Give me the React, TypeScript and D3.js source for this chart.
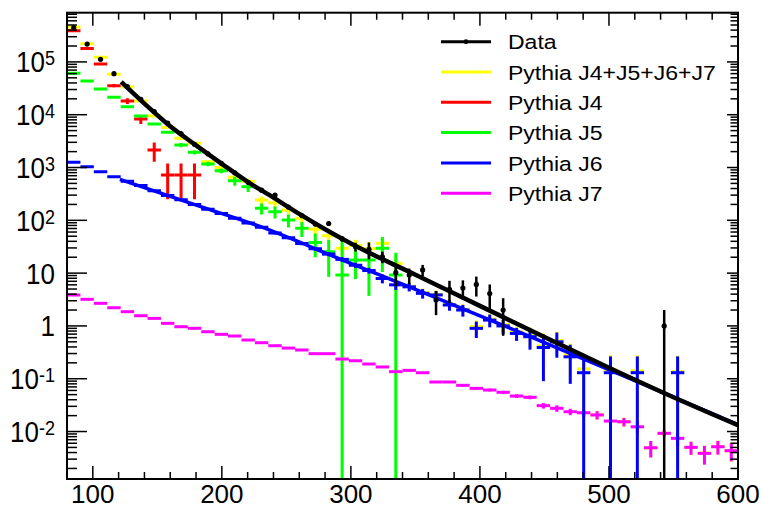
import React from "react";
import * as d3 from "d3";

const W = 763;
const H = 509;
const FRAME = { l: 67, r: 738, t: 12.7, b: 479 };

// Histogram binning: 50 bins from 80 to 600
const X_MIN = 80;
const X_MAX = 600;
const N_BINS = 50;
const binEdges = d3.range(N_BINS + 1).map((i) => X_MIN + (i * (X_MAX - X_MIN)) / N_BINS);

// Data (black points)
const dataValues = [
  445000, 218000, 112000, 59800, 33900, 19500, 11500, 6920, 4370, 2750,
  1820, 1200, 794, 525, 372, 301, 178, 123, 85, 87,
  44.7, 31.6, 28.2, 20.4, 10.2, 9.2, 11.5, 3.1, 4.95, 5.2,
  6.1, 4.1, 2.0, 0, 0, 0, 0, 0, 0, 0,
  0, 0, 0, 0, 1.0, 0, 0, 0, 0, 0,
];
const dataErrors = [
  700, 480, 340, 250, 180, 140, 110, 80, 65, 50,
  40, 32, 26, 21, 18, 10, 8, 7, 6, 8,
  5, 6, 10, 5, 4.5, 3, 2.8, 1.5, 2.2, 2.1,
  2.5, 2.0, 1.35, 0, 0, 0, 0, 0, 0, 0,
  0, 0, 0, 0, 1.0, 0, 0, 0, 0, 0,
];

// Pythia J4+J5+J6+J7 (yellow)
const sumValues = [
  457000, 221000, 122000, 58200, 33500, 18200, 9460, 5750, 3570, 2870,
  1290, 1000, 652, 541, 243, 214, 157, 109, 67.6, 51.3,
  29.5, 33.9, 28.8, 36.7, 15.3, 5.64, 4.27, 3.95, 2.58, 2.07,
  0.97, 1.36, 1.06, 0.77, 0.67, 0.42, 0.53, 0.284, 0.153, 0.0206,
  0.146, 0.0153, 0.142, 0.0049, 0.0092, 0.137, 0.005, 0.0039, 0.0052, 0.0043,
];
const sumErrors = [
  3000, 2000, 1500, 900, 900, 800, 350, 300, 250, 220,
  100, 90, 90, 80, 40, 35, 28, 22, 17, 15,
  8, 9, 10, 11, 5, 1.0, 0.85, 0.7, 0.55, 0.5,
  0.31, 0.35, 0.3, 0.2, 0.27, 0.3, 0.25, 0.18, 0.135, 0.004,
  0.135, 0.003, 0.135, 0.0017, 0.0011, 0.135, 0.0014, 0.0015, 0.0015, 0.0016,
];

// Pythia J4 (red)
const j4Values = [
  390000, 180000, 91000, 35500, 18200, 8300, 2140, 720, 720, 720,
  ...new Array(40).fill(0),
];
const j4Errors = [
  3000, 2000, 1500, 2500, 2200, 1600, 850, 470, 470, 470,
  ...new Array(40).fill(0),
];

// Pythia J5 (green)
const j5Values = [
  60800, 43650, 30690, 21380, 14130, 9460, 6670, 4680, 2670, 1940,
  1170, 870, 562, 434, 169, 145, 101, 70.5, 38, 25.5,
  9.2, 17.7, 17.7, 29.5, 9.2, 0, 0, 0, 0, 0,
  0, 0, 0, 0, 0, 0, 0, 0, 0, 0,
  0, 0, 0, 0, 0, 0, 0, 0, 0, 0,
];
const j5Errors = [
  700, 600, 500, 400, 350, 300, 250, 220, 250, 180,
  110, 90, 110, 90, 40, 37, 28, 22, 18, 17,
  33, 10, 14, 19, 15, 0, 0, 0, 0, 0,
  0, 0, 0, 0, 0, 0, 0, 0, 0, 0,
  0, 0, 0, 0, 0, 0, 0, 0, 0, 0,
];

// Pythia J6 (blue)
const j6Values = [
  1259, 1038, 832, 670, 550, 457, 363, 295, 245, 200,
  162, 135, 110, 89, 74, 57.5, 46.8, 36.3, 28.8, 22.9,
  18.2, 14.1, 11.2, 7.9, 6.0, 5.5, 4.14, 3.86, 2.49, 2.0,
  0.9, 1.29, 1.0, 0.72, 0.625, 0.39, 0.5, 0.26, 0.13, 0,
  0.13, 0, 0.13, 0, 0, 0.13, 0, 0, 0, 0,
];
const j6Errors = [
  25, 22, 18, 15, 14, 12, 10, 9, 8, 7,
  6, 5.5, 5, 4.5, 4, 3.5, 3, 2.6, 2.3, 2.0,
  1.8, 1.6, 1.4, 1.5, 1.2, 1.0, 0.85, 0.7, 0.55, 0.5,
  0.31, 0.35, 0.3, 0.2, 0.27, 0.3, 0.25, 0.18, 0.135, 0,
  0.135, 0, 0.135, 0, 0, 0.135, 0, 0, 0, 0,
];

// Pythia J7 (magenta)
const j7Values = [
  3.85, 3.19, 2.68, 2.21, 1.86, 1.56, 1.39, 1.12, 0.966, 0.902,
  0.776, 0.693, 0.644, 0.541, 0.481, 0.422, 0.381, 0.35, 0.298, 0.298,
  0.236, 0.219, 0.19, 0.167, 0.136, 0.144, 0.13, 0.0867, 0.0867, 0.075,
  0.0658, 0.0611, 0.0553, 0.047, 0.0445, 0.0309, 0.0275, 0.0237, 0.0227, 0.0206,
  0.0158, 0.0153, 0.0123, 0.00493, 0.00925, 0.00743, 0.00502, 0.00386, 0.00515, 0.00433,
];
const j7Errors = [
  0.08, 0.06, 0.05, 0.04, 0.035, 0.03, 0.027, 0.022, 0.019, 0.018,
  0.015, 0.014, 0.013, 0.011, 0.01, 0.0085, 0.0077, 0.0072, 0.0063, 0.0063,
  0.0052, 0.005, 0.0045, 0.0042, 0.0037, 0.0039, 0.0036, 0.0035, 0.0035, 0.0037,
  0.004, 0.0037, 0.0039, 0.0038, 0.0036, 0.0037, 0.0039, 0.0033, 0.0036, 0.0037,
  0.0035, 0.0028, 0.0031, 0.0017, 0.0011, 0.0021, 0.0014, 0.0015, 0.0015, 0.0016,
];

// Fit curves
const dataFitX = [122, 140, 160, 180, 200, 220, 240, 260, 280, 300, 350, 400, 450, 500, 550, 600];
const dataFitY = [41700, 16200, 6030, 2630, 1175, 537, 269, 132, 67.6, 36.3, 9.33, 2.4, 0.617, 0.162, 0.0447, 0.0132];
const j6FitX = [121, 183, 230, 295, 361, 416, 470, 532, 600];
const j6FitY = [597, 184, 75.7, 17.1, 3.85, 1.074, 0.302, 0.0692, 0.0135];

// Axis ticks
const xTickValues = d3.range(80, 601, 20);
const xLabels = [100, 200, 300, 400, 500, 600];
const yMajorExps = [-2, -1, 0, 1, 2, 3, 4, 5];

const legendItems = [
  { label: "Data", color: "#000000", marker: true },
  { label: "Pythia J4+J5+J6+J7", color: "#ffff00", marker: false },
  { label: "Pythia J4", color: "#ff0000", marker: false },
  { label: "Pythia J5", color: "#00ff00", marker: false },
  { label: "Pythia J6", color: "#0000ff", marker: false },
  { label: "Pythia J7", color: "#ff00ff", marker: false },
];

const FONT = "'Liberation Sans', Arial, Helvetica, sans-serif";

export default function App() {
  const x = d3.scaleLinear().domain([X_MIN, X_MAX]).range([FRAME.l, FRAME.r]);
  const y = d3.scaleLog().domain([1.262e-3, 8.55e5]).range([FRAME.b, FRAME.t]);
  const yMin = y.domain()[0];

  const histMarks = (
    vals: number[],
    errs: number[],
    color: string,
    key: string,
    sw: number
  ) => {
    const out: React.ReactElement[] = [];
    vals.forEach((v, i) => {
      if (!(v > 0)) return;
      const e = errs[i] || 0;
      const x0 = x(binEdges[i]);
      const x1 = x(binEdges[i + 1]);
      const xc = (x0 + x1) / 2;
      const yv = y(v);
      out.push(
        <line key={`${key}h${i}`} x1={x0} x2={x1} y1={yv} y2={yv} stroke={color} strokeWidth={sw} />
      );
      if (e > 0) {
        const yHi = y(v + e);
        const yLo = v - e > yMin ? y(v - e) : FRAME.b;
        out.push(
          <line key={`${key}v${i}`} x1={xc} x2={xc} y1={yHi} y2={yLo} stroke={color} strokeWidth={sw} />
        );
      }
    });
    return out;
  };

  const dataMarks = () => {
    const out: React.ReactElement[] = [];
    dataValues.forEach((v, i) => {
      if (!(v > 0)) return;
      const e = dataErrors[i] || 0;
      const xc = x((binEdges[i] + binEdges[i + 1]) / 2);
      const yv = y(v);
      if (e > 0) {
        const yHi = y(v + e);
        const yLo = v - e > yMin ? y(v - e) : FRAME.b;
        out.push(
          <line key={`dv${i}`} x1={xc} x2={xc} y1={yHi} y2={yLo} stroke="#000" strokeWidth={2.5} />
        );
      }
      out.push(<circle key={`dc${i}`} cx={xc} cy={yv} r={2.6} fill="#000" />);
    });
    return out;
  };

  const fitLine = d3
    .line<[number, number]>()
    .x((d) => x(d[0]))
    .y((d) => y(d[1]))
    .curve(d3.curveMonotoneX);

  const dataFitPath = fitLine(dataFitX.map((v, i) => [v, dataFitY[i]] as [number, number])) || "";
  const j6FitPath = fitLine(j6FitX.map((v, i) => [v, j6FitY[i]] as [number, number])) || "";

  // y ticks
  const yTicks: { v: number; major: boolean }[] = [];
  for (let ex = -3; ex <= 5; ex++) {
    for (let k = 1; k <= 9; k++) {
      const v = k * Math.pow(10, ex);
      if (v >= yMin && v <= y.domain()[1]) yTicks.push({ v, major: k === 1 });
    }
  }

  const yLabel = (ex: number) => {
    const yy = y(Math.pow(10, ex)) + 10.5;
    const tf = `translate(55, ${yy}) scale(1, 1.12)`;
    if (ex === 0 || ex === 1) {
      return (
        <text key={`yl${ex}`} transform={tf} textAnchor="end" fontSize={26} fontFamily={FONT}>
          {ex === 0 ? "1" : "10"}
        </text>
      );
    }
    return (
      <text key={`yl${ex}`} transform={tf} textAnchor="end" fontSize={26} fontFamily={FONT}>
        10
        <tspan dy={-6.5} fontSize={18}>
          {String(ex)}
        </tspan>
      </text>
    );
  };

  return (
    <div style={{ position: "fixed", left: 0, top: 0, width: W, height: H, background: "#fff" }}>
      <svg width={W} height={H} viewBox={`0 0 ${W} ${H}`} style={{ display: "block" }}>
        <rect x={0} y={0} width={W} height={H} fill="#fff" />
        <defs>
          <clipPath id="frameClip">
            <rect x={FRAME.l} y={FRAME.t} width={FRAME.r - FRAME.l} height={FRAME.b - FRAME.t} />
          </clipPath>
        </defs>

        <g clipPath="url(#frameClip)">
          {histMarks(sumValues, sumErrors, "#ffff00", "sum", 3)}
          {histMarks(j4Values, j4Errors, "#ff0000", "j4", 3)}
          {histMarks(j5Values, j5Errors, "#00ff00", "j5", 3)}
          {histMarks(j7Values, j7Errors, "#ff00ff", "j7", 3)}
          {histMarks(j6Values, j6Errors, "#0000ff", "j6", 3)}
          <path d={j6FitPath} fill="none" stroke="#0000ff" strokeWidth={3.5} />
          {dataMarks()}
          <path d={dataFitPath} fill="none" stroke="#000" strokeWidth={4.5} />
        </g>

        {/* frame */}
        <rect
          x={FRAME.l}
          y={FRAME.t}
          width={FRAME.r - FRAME.l}
          height={FRAME.b - FRAME.t}
          fill="none"
          stroke="#000"
          strokeWidth={2}
        />

        {/* x ticks bottom & top */}
        {xTickValues.map((v) => {
          const major = v % 100 === 0;
          const len = major ? 13 : 7;
          const xx = x(v);
          return (
            <g key={`xt${v}`}>
              <line x1={xx} x2={xx} y1={FRAME.b} y2={FRAME.b - len} stroke="#000" strokeWidth={1.5} />
              <line x1={xx} x2={xx} y1={FRAME.t} y2={FRAME.t + len} stroke="#000" strokeWidth={1.5} />
            </g>
          );
        })}
        {xLabels.map((v) => (
          <text key={`xl${v}`} x={x(v)} y={503} textAnchor="middle" fontSize={26} fontFamily={FONT}>
            {v}
          </text>
        ))}

        {/* y ticks left & right */}
        {yTicks.map((t, i) => {
          const yy = y(t.v);
          return (
            <g key={`yt${i}`}>
              <line x1={FRAME.l} x2={FRAME.l + (t.major ? 20 : 10)} y1={yy} y2={yy} stroke="#000" strokeWidth={1.5} />
              <line x1={FRAME.r} x2={FRAME.r - (t.major ? 11 : 7.5)} y1={yy} y2={yy} stroke="#000" strokeWidth={1.5} />
            </g>
          );
        })}
        {yMajorExps.map((ex) => yLabel(ex))}

        {/* legend */}
        {legendItems.map((it, i) => {
          const ly = 41.7 + i * 30.3;
          return (
            <g key={`lg${i}`}>
              <line x1={441} x2={491} y1={ly} y2={ly} stroke={it.color} strokeWidth={3} />
              {it.marker && <circle cx={466} cy={ly} r={2.4} fill="#000" />}
              <text
                transform={`translate(508, ${ly + 7.6}) scale(1, 0.9)`}
                fontSize={23}
                fontFamily={FONT}
              >
                {it.label}
              </text>
            </g>
          );
        })}
      </svg>
    </div>
  );
}
